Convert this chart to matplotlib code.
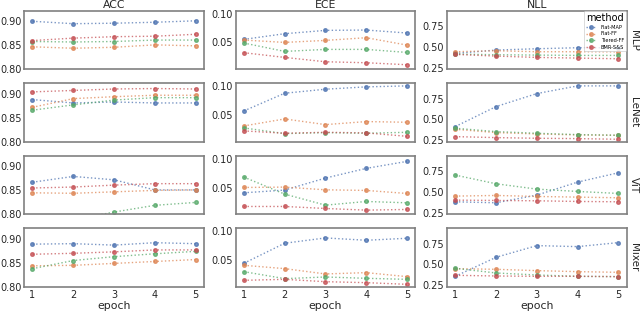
import numpy as np
import matplotlib
matplotlib.use("Agg")
import matplotlib.pyplot as plt

epochs = [1, 2, 3, 4, 5]
methods = ["Flat-MAP", "Flat-FF", "Tiered-FF", "BMR-S&S"]
colors = ["#4C72B0", "#DD8452", "#55A868", "#C44E52"]
models = ["MLP", "LeNet", "ViT", "Mixer"]
metrics = ["ACC", "ECE", "NLL"]

# ACC per model, rows follow methods order
acc_mlp = [[0.900, 0.895, 0.896, 0.898, 0.901],
           [0.847, 0.844, 0.846, 0.851, 0.849],
           [0.858, 0.857, 0.858, 0.861, 0.861],
           [0.860, 0.865, 0.868, 0.869, 0.873]]
acc_lenet = [[0.888, 0.881, 0.883, 0.881, 0.881],
             [0.872, 0.890, 0.894, 0.897, 0.897],
             [0.866, 0.877, 0.887, 0.892, 0.892],
             [0.904, 0.907, 0.910, 0.911, 0.910]]
acc_vit = [[0.867, 0.879, 0.872, 0.851, 0.851],
           [0.845, 0.844, 0.847, 0.850, 0.851],
           [0.775, 0.789, 0.805, 0.819, 0.825],
           [0.855, 0.857, 0.861, 0.864, 0.864]]
acc_mixer = [[0.889, 0.890, 0.887, 0.892, 0.890],
             [0.844, 0.845, 0.849, 0.853, 0.857],
             [0.838, 0.855, 0.863, 0.869, 0.874],
             [0.868, 0.870, 0.873, 0.877, 0.877]]

ece_mlp = [[0.0554, 0.0653, 0.0711, 0.0717, 0.0665],
           [0.0542, 0.0501, 0.0536, 0.0583, 0.0454],
           [0.0490, 0.0344, 0.0379, 0.0379, 0.0326],
           [0.0321, 0.0239, 0.0163, 0.0146, 0.0111]]
ece_lenet = [[0.0571, 0.0880, 0.0950, 0.0991, 0.1008],
             [0.0309, 0.0431, 0.0332, 0.0385, 0.0373],
             [0.0274, 0.0175, 0.0192, 0.0181, 0.0198],
             [0.0222, 0.0181, 0.0198, 0.0187, 0.0128]]
ece_vit = [[0.0408, 0.0455, 0.0665, 0.0834, 0.0956],
           [0.0501, 0.0507, 0.0460, 0.0449, 0.0396],
           [0.0682, 0.0385, 0.0192, 0.0256, 0.0233],
           [0.0169, 0.0169, 0.0134, 0.0105, 0.0117]]
ece_mixer = [[0.0443, 0.0793, 0.0886, 0.0845, 0.0880],
             [0.0408, 0.0350, 0.0257, 0.0280, 0.0210],
             [0.0297, 0.0175, 0.0204, 0.0181, 0.0163],
             [0.0146, 0.0163, 0.0122, 0.0105, 0.0076]]

nll_mlp = [[0.422, 0.462, 0.478, 0.490, 0.490],
           [0.442, 0.454, 0.442, 0.442, 0.440],
           [0.414, 0.406, 0.402, 0.398, 0.398],
           [0.410, 0.390, 0.374, 0.366, 0.358]]
nll_lenet = [[0.414, 0.654, 0.810, 0.902, 0.902],
             [0.382, 0.342, 0.326, 0.314, 0.310],
             [0.394, 0.354, 0.334, 0.318, 0.310],
             [0.294, 0.282, 0.274, 0.270, 0.262]]
nll_vit = [[0.382, 0.370, 0.462, 0.618, 0.730],
           [0.450, 0.458, 0.446, 0.438, 0.430],
           [0.702, 0.598, 0.534, 0.506, 0.482],
           [0.402, 0.398, 0.394, 0.386, 0.382]]
nll_mixer = [[0.358, 0.586, 0.726, 0.714, 0.762],
             [0.450, 0.442, 0.426, 0.414, 0.406],
             [0.454, 0.398, 0.374, 0.358, 0.354],
             [0.370, 0.362, 0.358, 0.358, 0.354]]

data = {
    "ACC": [acc_mlp, acc_lenet, acc_vit, acc_mixer],
    "ECE": [ece_mlp, ece_lenet, ece_vit, ece_mixer],
    "NLL": [nll_mlp, nll_lenet, nll_vit, nll_mixer],
}

plt.rcParams['font.family'] = 'DejaVu Sans'
fig, axes = plt.subplots(4, 3, figsize=(6.4, 3.11), dpi=100, sharex=True, sharey='col')
fig.subplots_adjust(left=0.038, right=0.979, top=0.9656, bottom=0.0772,
                    wspace=0.178, hspace=0.235)

for c, metric in enumerate(metrics):
    for r, model in enumerate(models):
        ax = axes[r, c]
        for m, name in enumerate(methods):
            ax.plot(epochs, data[metric][r][m], linestyle=':', marker='o',
                    markersize=2.6, linewidth=1.0, color=colors[m], alpha=0.75,
                    label=name)
        for s in ax.spines.values():
            s.set_color('#808080')
            s.set_linewidth(1.2)
        ax.tick_params(length=0, labelsize=7.0, pad=2, labelcolor='#262626')
        ax.yaxis.set_tick_params(labelleft=True)
        if r == 0:
            ax.set_title(metric, fontsize=7.8, pad=2, color='#262626')
        if r == 3:
            ax.set_xlabel('epoch', fontsize=7.8, labelpad=1, color='#262626')
        if c == 2:
            ax.text(1.012, 0.5, model, transform=ax.transAxes, rotation=270,
                    ha='left', va='center', fontsize=7.5, color='#262626')

axes[0, 0].set_ylim(0.80, 0.922)
axes[0, 0].set_yticks([0.80, 0.85, 0.90])
axes[0, 1].set_yticks([0.05, 0.10])
axes[0, 2].set_yticks([0.25, 0.50, 0.75])
axes[0, 0].set_xticks(epochs)
for ax in axes.flat:
    ax.yaxis.set_major_formatter(matplotlib.ticker.FormatStrFormatter('%.2f'))

leg = axes[0, 2].legend(title='method', loc='upper right', fontsize=3.6,
                        title_fontsize=7, frameon=True, borderpad=0.3,
                        labelspacing=0.35, handlelength=2.2, borderaxespad=0.15)
leg.get_frame().set_edgecolor('#cccccc')
leg.get_frame().set_linewidth(0.6)

fig.savefig('out.png', dpi=100)
